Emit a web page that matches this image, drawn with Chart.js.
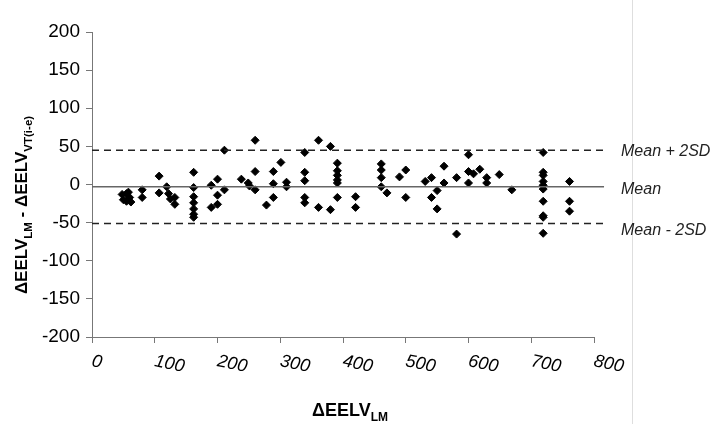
<!DOCTYPE html>
<html>
<head>
<meta charset="utf-8">
<script src="https://cdn.jsdelivr.net/npm/chart.js@4.4.0/dist/chart.umd.min.js"></script>
<style>
  html, body { margin: 0; padding: 0; background: #fff; }
  #wrap { position: relative; width: 724px; height: 424px; }
  #edge { position: absolute; left: 632px; top: 0; width: 1px; height: 424px; background: #dedede; }
  canvas { position: absolute; left: 0; top: 0; }
</style>
</head>
<body>
<div id="wrap">
  <div id="edge"></div>
  <canvas id="baChart" width="724" height="424"></canvas>
</div>
<script>
// Bland-Altman points: x = ΔEELV LM, y = difference
const diffX = [48, 50, 55, 55, 58, 60, 62, 80, 80, 107, 107, 119, 122, 125, 132, 132,
  162, 162, 162, 162, 162, 162, 162, 190, 190, 200, 200, 200, 211, 211,
  238, 249, 251, 260, 260, 260, 278, 289, 289, 289, 301, 310, 310,
  339, 339, 339, 339, 339, 361, 361, 380, 380, 391, 391, 391, 391, 391, 391,
  420, 420, 461, 461, 461, 461, 470, 490, 500, 500, 531, 541, 541, 550, 550,
  561, 561, 581, 581, 600, 600, 600, 608, 618, 629, 629, 649, 669,
  719, 719, 719, 719, 719, 719, 719, 719, 719, 719, 761, 761, 761];
const diffY = [-13, -20, -12, -22, -10, -17, -23, -7, -17, 11, -11, -3, -12, -19, -17, -26,
  16, -4, -16, -24, -32, -39, -43, -1, -30, 7, -14, -26, -7, 45,
  7, 2, -2, 17, -7, 58, -27, -17, 1, 17, 29, 3, -3,
  42, 16, 5, -17, -24, 58, -30, 50, -33, 28, 18, 12, 6, 2, -17,
  -16, -30, 27, 19, 9, -3, -11, 10, 19, -17, 4, 9, -17, -8, -32,
  24, 2, 9, -65, 39, 17, 2, 14, 20, 9, 2, 13, -7,
  42, 16, 12, 4, -1, -6, -22, -41, -43, -64, 4, -22, -35];

// agreement lines
const meanDiff = -3;
const upperLimit = 45;
const lowerLimit = -51;
const lineLabels = ["Mean + 2SD", "Mean", "Mean - 2SD"];

const xTicks = [0, 100, 200, 300, 400, 500, 600, 700, 800];
const lineEndX = 816;

const points = diffX.map((v, i) => ({ x: v, y: diffY[i] }));
const hLine = v => [{ x: 0, y: v }, { x: lineEndX, y: v }];

// draws a run of text pieces, some as subscripts
function drawRuns(ctx, runs, size, subSize) {
  let total = 0;
  runs.forEach(r => {
    ctx.font = 'bold ' + (r.sub ? subSize : size) + 'px "Liberation Sans", Arial, sans-serif';
    r.w = ctx.measureText(r.t).width;
    total += r.w;
  });
  let cx = -total / 2;
  runs.forEach(r => {
    ctx.font = 'bold ' + (r.sub ? subSize : size) + 'px "Liberation Sans", Arial, sans-serif';
    ctx.fillText(r.t, cx, r.sub ? 5 : 0);
    cx += r.w;
  });
}

const extras = {
  id: 'extras',
  afterDraw(chart) {
    const { ctx, scales: { x, y } } = chart;
    ctx.save();
    ctx.fillStyle = '#000';

    // slanted x tick labels
    ctx.font = 'italic 18px "Liberation Sans", Arial, sans-serif';
    ctx.textAlign = 'left';
    ctx.textBaseline = 'middle';
    xTicks.forEach(v => {
      ctx.save();
      ctx.translate(x.getPixelForValue(v), 361);
      ctx.rotate(0.2);
      ctx.fillText(String(v), 0, 0);
      ctx.restore();
    });

    // labels for the mean and limit lines
    ctx.fillStyle = '#222';
    ctx.font = 'italic 16px "Liberation Sans", Arial, sans-serif';
    const offs = [1, 3, 7];
    [upperLimit, meanDiff, lowerLimit].forEach((v, i) => {
      ctx.fillText(lineLabels[i], 621, y.getPixelForValue(v) + offs[i]);
    });

    // axis titles
    ctx.fillStyle = '#000';
    ctx.textAlign = 'left';
    ctx.textBaseline = 'alphabetic';
    ctx.save();
    ctx.translate(350, 416);
    drawRuns(ctx, [{ t: 'ΔEELV' }, { t: 'LM', sub: true }], 18, 12);
    ctx.restore();

    ctx.save();
    ctx.translate(27, 205);
    ctx.rotate(-Math.PI / 2);
    drawRuns(ctx, [{ t: 'ΔEELV' }, { t: 'LM', sub: true }, { t: ' - ' },
      { t: 'ΔEELV' }, { t: 'VT(i-e)', sub: true }], 17, 11.5);
    ctx.restore();

    ctx.restore();
  }
};

new Chart(document.getElementById('baChart').getContext('2d'), {
  type: 'scatter',
  data: {
    datasets: [
      {
        data: hLine(upperLimit), showLine: true, pointRadius: 0, clip: false,
        borderColor: '#222', borderWidth: 1.5, borderDash: [7, 5]
      },
      {
        data: hLine(meanDiff), showLine: true, pointRadius: 0, clip: false,
        borderColor: '#666', borderWidth: 1.5
      },
      {
        data: hLine(lowerLimit), showLine: true, pointRadius: 0, clip: false,
        borderColor: '#222', borderWidth: 1.5, borderDash: [7, 5]
      },
      {
        data: points, pointStyle: 'rectRot', pointRadius: 4, pointHoverRadius: 4,
        backgroundColor: '#000', borderColor: '#000', borderWidth: 1
      }
    ]
  },
  options: {
    responsive: false,
    animation: false,
    layout: { padding: { left: 0, right: 130, top: 32, bottom: 0 } },
    plugins: { legend: { display: false }, tooltip: { enabled: false } },
    scales: {
      x: {
        type: 'linear', min: 0, max: 800,
        ticks: { stepSize: 100, color: 'transparent', font: { size: 18 } },
        grid: { drawOnChartArea: false, tickLength: 6, color: '#777' },
        border: { color: '#777' },
        afterFit(scale) { scale.height = 87; }
      },
      y: {
        min: -200, max: 200,
        ticks: {
          stepSize: 50, color: '#000', padding: 6,
          font: { size: 19, family: '"Liberation Sans", Arial, sans-serif' }
        },
        grid: { drawOnChartArea: false, tickLength: 6, color: '#777' },
        border: { color: '#777' },
        afterFit(scale) { scale.width = 92; }
      }
    }
  },
  plugins: [extras]
});
</script>
</body>
</html>
